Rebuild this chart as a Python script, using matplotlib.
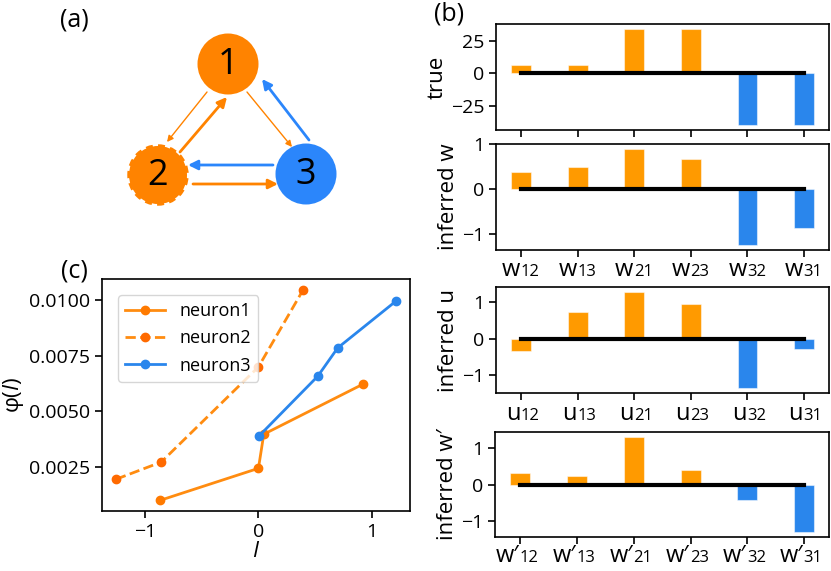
import matplotlib.pyplot as plt
from matplotlib.patches import Circle, FancyArrowPatch
from matplotlib.transforms import ScaledTranslation

plt.rcParams['font.family'] = ['Open Sans', 'DejaVu Sans']
plt.rcParams['mathtext.fontset'] = 'custom'
plt.rcParams['mathtext.rm'] = 'Open Sans'
plt.rcParams['mathtext.it'] = 'Open Sans:italic'

laranja = '#ff9a00'
azul = '#2a86ec'
laranja_no = '#ff8300'
azul_no = '#2b86fb'

# dados dos pesos (painel b)
true_w = [6, 6, 34, 34, -40, -40]
inferred_w = [0.39, 0.50, 0.90, 0.68, -1.25, -0.87]
inferred_u = [-0.32, 0.73, 1.29, 0.97, -1.35, -0.28]
inferred_wp = [0.32, 0.23, 1.32, 0.40, -0.43, -1.31]
indices = ['12', '13', '21', '23', '32', '31']
cores_barras = [laranja, laranja, laranja, laranja, azul, azul]

# curvas phi(I) (painel c)
n1_I = [-0.87, 0.0, 0.047, 0.92]
n1_phi = [0.00100, 0.00244, 0.00397, 0.00621]
n2_I = [-1.257, -0.858, 0.0, 0.396]
n2_phi = [0.00195, 0.00272, 0.00699, 0.01046]
n3_I = [0.003, 0.523, 0.699, 1.213]
n3_phi = [0.00388, 0.00657, 0.00784, 0.00994]

# rede (painel a), em pixels da figura
nos = {'1': (228, 64), '2': (158, 175), '3': (306, 174)}
cores_nos = {'1': laranja_no, '2': laranja_no, '3': azul_no}

fig = plt.figure(figsize=(8.31, 5.71), dpi=100)

# painel a
ax_a = fig.add_axes([0, 0, 1, 1], zorder=-1)
ax_a.set_xlim(0, 831)
ax_a.set_ylim(571, 0)
ax_a.axis('off')
for nome, (x, y) in nos.items():
    if nome == '2':
        c = Circle((x, y), 29, facecolor=cores_nos[nome], edgecolor=cores_nos[nome],
                   lw=2.5, ls=(0, (2, 1.5)))
    else:
        c = Circle((x, y), 30.5, facecolor=cores_nos[nome], edgecolor='none')
    ax_a.add_patch(c)
    ax_a.text(x, y + 1, nome, fontsize=26, ha='center', va='center')

setas = [
    ((207, 92), (167, 142), laranja_no, 1.0, 9),
    ((180, 152), (227, 97), laranja_no, 2.0, 14),
    ((247, 92), (292, 147), laranja_no, 1.0, 9),
    ((309, 140), (262, 79), azul_no, 2.0, 14),
    ((273, 165), (188, 165), azul_no, 2.0, 14),
    ((193, 184), (278, 184), laranja_no, 2.0, 14),
]
for ini, fim, cor, lw, esc in setas:
    ax_a.add_patch(FancyArrowPatch(ini, fim, arrowstyle='-|>', color=cor, lw=lw,
                                   mutation_scale=esc, shrinkA=0, shrinkB=0))

fig.text(0.09, 0.965, '(a)', fontsize=18, ha='center', va='center')
fig.text(0.54, 0.975, '(b)', fontsize=18, ha='center', va='center')
fig.text(0.09, 0.525, '(c)', fontsize=18, ha='center', va='center')


def rotulos_x(ax, letra, desce):
    # letra grande + índice menor na mesma linha de base
    for i, sub in enumerate(indices):
        base = ax.get_xaxis_transform()
        t1 = base + ScaledTranslation(-0.01, -desce, fig.dpi_scale_trans)
        t2 = base + ScaledTranslation(-0.005, -desce, fig.dpi_scale_trans)
        ax.text(i, 0, letra, transform=t1, fontsize=17, ha='right', va='baseline')
        ax.text(i, 0, sub, transform=t2, fontsize=12, ha='left', va='baseline')


# painel b
posicoes = [
    [0.597, 0.7723, 0.4007, 0.1856],
    [0.597, 0.5622, 0.4007, 0.1856],
    [0.597, 0.3117, 0.4007, 0.1856],
    [0.596, 0.0595, 0.4019, 0.1840],
]
valores = [true_w, inferred_w, inferred_u, inferred_wp]
nomes = ['true', 'inferred w', 'inferred u', "inferred w\u2032"]
letras = [None, 'w', 'u', "w\u2032"]
descidas = [0, 0.26, 0.27, 0.25]
ticks_y = [[-25, 0, 25], [-1, 0, 1], [-1, 0, 1], [-1, 0, 1]]
idx = range(len(true_w))
for pos, vals, nome, letra, desce, ty in zip(posicoes, valores, nomes, letras, descidas, ticks_y):
    ax = fig.add_axes(pos)
    ax.bar(idx, vals, width=0.35, color=cores_barras, edgecolor=(1, 1, 1, 0.5), lw=0.8)
    ax.plot([0, 5], [0, 0], color='k', lw=3)
    ax.set_yticks(ty)
    ax.set_xticks(list(idx))
    ax.set_xticklabels([])
    if letra is not None:
        rotulos_x(ax, letra, desce)
    ax.tick_params(labelsize=14, length=5, width=1.2)
    ax.set_ylabel(nome, fontsize=16, labelpad=2)
    for s in ax.spines.values():
        s.set_linewidth(1.2)

# painel c
ax_c = fig.add_axes([0.1227, 0.1051, 0.3706, 0.4063])
ax_c.plot(n1_I, n1_phi, '-o', color='#ff8c10', mfc='#ff7a00', mec='#ff7a00',
          lw=2, ms=6, label='neuron1')
ax_c.plot(n2_I, n2_phi, '--o', color='#ff8c10', mfc='#ff6a00', mec='#ff6a00',
          lw=2, ms=6, label='neuron2')
ax_c.plot(n3_I, n3_phi, '-o', color=azul, lw=2, ms=6, label='neuron3')
ax_c.set_yticks([0.0025, 0.0050, 0.0075, 0.0100])
ax_c.set_yticklabels(['0.0025', '0.0050', '0.0075', '0.0100'])
ax_c.set_xticks([-1, 0, 1])
ax_c.tick_params(labelsize=14, length=5, width=1.2)
ax_c.set_xlabel(r'$\mathit{I}$', fontsize=16, labelpad=0)
ax_c.set_ylabel(r'$\mathrm{\varphi}(\mathit{I})$', fontsize=16, labelpad=2)
ax_c.legend(loc='upper left', fontsize=13, handlelength=2.2, borderaxespad=0.9)
for s in ax_c.spines.values():
    s.set_linewidth(1.2)

fig.savefig('out.png', dpi=100)
